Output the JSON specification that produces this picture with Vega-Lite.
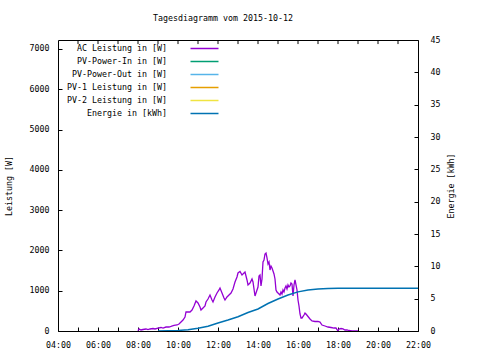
{
  "$schema": "https://vega.github.io/schema/vega-lite/v6.json",
  "width": 360,
  "height": 291,
  "autosize": "none",
  "padding": {"left": 58, "top": 40, "right": 62, "bottom": 29},
  "background": "white",
  "title": {"text": "Tagesdiagramm vom 2015-10-12", "font": "DejaVu Sans Mono", "fontSize": 8.3, "fontWeight": "normal", "color": "black", "anchor": "middle", "dx": -15, "baseline": "alphabetic", "offset": 6},
  "datasets": {
    "power": [
      {"t": "2015-10-12T08:00", "series": "AC Leistung in [W]", "v": 5},
      {"t": "2015-10-12T08:03", "series": "AC Leistung in [W]", "v": 50},
      {"t": "2015-10-12T08:09", "series": "AC Leistung in [W]", "v": 25},
      {"t": "2015-10-12T08:15", "series": "AC Leistung in [W]", "v": 37},
      {"t": "2015-10-12T08:24", "series": "AC Leistung in [W]", "v": 50},
      {"t": "2015-10-12T08:30", "series": "AC Leistung in [W]", "v": 37},
      {"t": "2015-10-12T08:36", "series": "AC Leistung in [W]", "v": 50},
      {"t": "2015-10-12T08:45", "series": "AC Leistung in [W]", "v": 62},
      {"t": "2015-10-12T08:51", "series": "AC Leistung in [W]", "v": 50},
      {"t": "2015-10-12T09:00", "series": "AC Leistung in [W]", "v": 74},
      {"t": "2015-10-12T09:09", "series": "AC Leistung in [W]", "v": 87},
      {"t": "2015-10-12T09:15", "series": "AC Leistung in [W]", "v": 74},
      {"t": "2015-10-12T09:24", "series": "AC Leistung in [W]", "v": 99},
      {"t": "2015-10-12T09:33", "series": "AC Leistung in [W]", "v": 99},
      {"t": "2015-10-12T09:39", "series": "AC Leistung in [W]", "v": 112},
      {"t": "2015-10-12T09:48", "series": "AC Leistung in [W]", "v": 137},
      {"t": "2015-10-12T09:57", "series": "AC Leistung in [W]", "v": 149},
      {"t": "2015-10-12T10:03", "series": "AC Leistung in [W]", "v": 174},
      {"t": "2015-10-12T10:09", "series": "AC Leistung in [W]", "v": 223},
      {"t": "2015-10-12T10:15", "series": "AC Leistung in [W]", "v": 273},
      {"t": "2015-10-12T10:21", "series": "AC Leistung in [W]", "v": 347},
      {"t": "2015-10-12T10:24", "series": "AC Leistung in [W]", "v": 472},
      {"t": "2015-10-12T10:30", "series": "AC Leistung in [W]", "v": 472},
      {"t": "2015-10-12T10:36", "series": "AC Leistung in [W]", "v": 472},
      {"t": "2015-10-12T10:42", "series": "AC Leistung in [W]", "v": 521},
      {"t": "2015-10-12T10:48", "series": "AC Leistung in [W]", "v": 620},
      {"t": "2015-10-12T10:54", "series": "AC Leistung in [W]", "v": 745},
      {"t": "2015-10-12T11:00", "series": "AC Leistung in [W]", "v": 695},
      {"t": "2015-10-12T11:06", "series": "AC Leistung in [W]", "v": 596},
      {"t": "2015-10-12T11:09", "series": "AC Leistung in [W]", "v": 521},
      {"t": "2015-10-12T11:15", "series": "AC Leistung in [W]", "v": 571},
      {"t": "2015-10-12T11:21", "series": "AC Leistung in [W]", "v": 620},
      {"t": "2015-10-12T11:24", "series": "AC Leistung in [W]", "v": 720},
      {"t": "2015-10-12T11:30", "series": "AC Leistung in [W]", "v": 794},
      {"t": "2015-10-12T11:36", "series": "AC Leistung in [W]", "v": 894},
      {"t": "2015-10-12T11:42", "series": "AC Leistung in [W]", "v": 769},
      {"t": "2015-10-12T11:45", "series": "AC Leistung in [W]", "v": 720},
      {"t": "2015-10-12T11:51", "series": "AC Leistung in [W]", "v": 844},
      {"t": "2015-10-12T11:57", "series": "AC Leistung in [W]", "v": 943},
      {"t": "2015-10-12T12:03", "series": "AC Leistung in [W]", "v": 1018},
      {"t": "2015-10-12T12:06", "series": "AC Leistung in [W]", "v": 1067},
      {"t": "2015-10-12T12:12", "series": "AC Leistung in [W]", "v": 943},
      {"t": "2015-10-12T12:18", "series": "AC Leistung in [W]", "v": 819},
      {"t": "2015-10-12T12:21", "series": "AC Leistung in [W]", "v": 769},
      {"t": "2015-10-12T12:27", "series": "AC Leistung in [W]", "v": 844},
      {"t": "2015-10-12T12:33", "series": "AC Leistung in [W]", "v": 894},
      {"t": "2015-10-12T12:39", "series": "AC Leistung in [W]", "v": 943},
      {"t": "2015-10-12T12:45", "series": "AC Leistung in [W]", "v": 1042},
      {"t": "2015-10-12T12:51", "series": "AC Leistung in [W]", "v": 1216},
      {"t": "2015-10-12T12:57", "series": "AC Leistung in [W]", "v": 1340},
      {"t": "2015-10-12T13:00", "series": "AC Leistung in [W]", "v": 1440},
      {"t": "2015-10-12T13:06", "series": "AC Leistung in [W]", "v": 1477},
      {"t": "2015-10-12T13:12", "series": "AC Leistung in [W]", "v": 1390},
      {"t": "2015-10-12T13:18", "series": "AC Leistung in [W]", "v": 1440},
      {"t": "2015-10-12T13:21", "series": "AC Leistung in [W]", "v": 1464},
      {"t": "2015-10-12T13:27", "series": "AC Leistung in [W]", "v": 1266},
      {"t": "2015-10-12T13:30", "series": "AC Leistung in [W]", "v": 1142},
      {"t": "2015-10-12T13:36", "series": "AC Leistung in [W]", "v": 1191},
      {"t": "2015-10-12T13:42", "series": "AC Leistung in [W]", "v": 1291},
      {"t": "2015-10-12T13:45", "series": "AC Leistung in [W]", "v": 1216},
      {"t": "2015-10-12T13:51", "series": "AC Leistung in [W]", "v": 869},
      {"t": "2015-10-12T13:57", "series": "AC Leistung in [W]", "v": 1018},
      {"t": "2015-10-12T14:00", "series": "AC Leistung in [W]", "v": 1092},
      {"t": "2015-10-12T14:03", "series": "AC Leistung in [W]", "v": 1365},
      {"t": "2015-10-12T14:06", "series": "AC Leistung in [W]", "v": 1390},
      {"t": "2015-10-12T14:09", "series": "AC Leistung in [W]", "v": 1117},
      {"t": "2015-10-12T14:12", "series": "AC Leistung in [W]", "v": 1291},
      {"t": "2015-10-12T14:15", "series": "AC Leistung in [W]", "v": 1713},
      {"t": "2015-10-12T14:18", "series": "AC Leistung in [W]", "v": 1762},
      {"t": "2015-10-12T14:21", "series": "AC Leistung in [W]", "v": 1911},
      {"t": "2015-10-12T14:24", "series": "AC Leistung in [W]", "v": 1936},
      {"t": "2015-10-12T14:27", "series": "AC Leistung in [W]", "v": 1812},
      {"t": "2015-10-12T14:30", "series": "AC Leistung in [W]", "v": 1663},
      {"t": "2015-10-12T14:33", "series": "AC Leistung in [W]", "v": 1713},
      {"t": "2015-10-12T14:36", "series": "AC Leistung in [W]", "v": 1514},
      {"t": "2015-10-12T14:39", "series": "AC Leistung in [W]", "v": 1613},
      {"t": "2015-10-12T14:42", "series": "AC Leistung in [W]", "v": 1564},
      {"t": "2015-10-12T14:45", "series": "AC Leistung in [W]", "v": 1490},
      {"t": "2015-10-12T14:48", "series": "AC Leistung in [W]", "v": 1415},
      {"t": "2015-10-12T14:51", "series": "AC Leistung in [W]", "v": 1291},
      {"t": "2015-10-12T14:54", "series": "AC Leistung in [W]", "v": 1018},
      {"t": "2015-10-12T14:57", "series": "AC Leistung in [W]", "v": 968},
      {"t": "2015-10-12T15:00", "series": "AC Leistung in [W]", "v": 943},
      {"t": "2015-10-12T15:06", "series": "AC Leistung in [W]", "v": 894},
      {"t": "2015-10-12T15:09", "series": "AC Leistung in [W]", "v": 968},
      {"t": "2015-10-12T15:12", "series": "AC Leistung in [W]", "v": 918},
      {"t": "2015-10-12T15:15", "series": "AC Leistung in [W]", "v": 1018},
      {"t": "2015-10-12T15:18", "series": "AC Leistung in [W]", "v": 968},
      {"t": "2015-10-12T15:21", "series": "AC Leistung in [W]", "v": 1067},
      {"t": "2015-10-12T15:24", "series": "AC Leistung in [W]", "v": 1117},
      {"t": "2015-10-12T15:27", "series": "AC Leistung in [W]", "v": 1042},
      {"t": "2015-10-12T15:30", "series": "AC Leistung in [W]", "v": 1142},
      {"t": "2015-10-12T15:33", "series": "AC Leistung in [W]", "v": 1092},
      {"t": "2015-10-12T15:36", "series": "AC Leistung in [W]", "v": 1117},
      {"t": "2015-10-12T15:39", "series": "AC Leistung in [W]", "v": 1191},
      {"t": "2015-10-12T15:42", "series": "AC Leistung in [W]", "v": 1167},
      {"t": "2015-10-12T15:45", "series": "AC Leistung in [W]", "v": 869},
      {"t": "2015-10-12T15:48", "series": "AC Leistung in [W]", "v": 1142},
      {"t": "2015-10-12T15:51", "series": "AC Leistung in [W]", "v": 1266},
      {"t": "2015-10-12T15:54", "series": "AC Leistung in [W]", "v": 1142},
      {"t": "2015-10-12T15:57", "series": "AC Leistung in [W]", "v": 1018},
      {"t": "2015-10-12T16:00", "series": "AC Leistung in [W]", "v": 769},
      {"t": "2015-10-12T16:03", "series": "AC Leistung in [W]", "v": 620},
      {"t": "2015-10-12T16:06", "series": "AC Leistung in [W]", "v": 422},
      {"t": "2015-10-12T16:09", "series": "AC Leistung in [W]", "v": 323},
      {"t": "2015-10-12T16:12", "series": "AC Leistung in [W]", "v": 323},
      {"t": "2015-10-12T16:18", "series": "AC Leistung in [W]", "v": 397},
      {"t": "2015-10-12T16:21", "series": "AC Leistung in [W]", "v": 447},
      {"t": "2015-10-12T16:24", "series": "AC Leistung in [W]", "v": 422},
      {"t": "2015-10-12T16:30", "series": "AC Leistung in [W]", "v": 360},
      {"t": "2015-10-12T16:36", "series": "AC Leistung in [W]", "v": 298},
      {"t": "2015-10-12T16:42", "series": "AC Leistung in [W]", "v": 248},
      {"t": "2015-10-12T16:51", "series": "AC Leistung in [W]", "v": 236},
      {"t": "2015-10-12T17:00", "series": "AC Leistung in [W]", "v": 236},
      {"t": "2015-10-12T17:06", "series": "AC Leistung in [W]", "v": 223},
      {"t": "2015-10-12T17:12", "series": "AC Leistung in [W]", "v": 149},
      {"t": "2015-10-12T17:21", "series": "AC Leistung in [W]", "v": 124},
      {"t": "2015-10-12T17:30", "series": "AC Leistung in [W]", "v": 99},
      {"t": "2015-10-12T17:39", "series": "AC Leistung in [W]", "v": 87},
      {"t": "2015-10-12T17:48", "series": "AC Leistung in [W]", "v": 74},
      {"t": "2015-10-12T17:54", "series": "AC Leistung in [W]", "v": 74},
      {"t": "2015-10-12T18:00", "series": "AC Leistung in [W]", "v": 0},
      {"t": "2015-10-12T18:03", "series": "AC Leistung in [W]", "v": 50},
      {"t": "2015-10-12T18:09", "series": "AC Leistung in [W]", "v": 62},
      {"t": "2015-10-12T18:15", "series": "AC Leistung in [W]", "v": 50},
      {"t": "2015-10-12T18:21", "series": "AC Leistung in [W]", "v": 25},
      {"t": "2015-10-12T18:27", "series": "AC Leistung in [W]", "v": 25},
      {"t": "2015-10-12T18:33", "series": "AC Leistung in [W]", "v": 12},
      {"t": "2015-10-12T18:42", "series": "AC Leistung in [W]", "v": 0},
      {"t": "2015-10-12T18:51", "series": "AC Leistung in [W]", "v": 0},
      {"t": "2015-10-12T19:00", "series": "AC Leistung in [W]", "v": 0}
    ],
    "energy": [
      {"t": "2015-10-12T09:00", "series": "Energie in [kWh]", "e": 0},
      {"t": "2015-10-12T09:30", "series": "Energie in [kWh]", "e": 0.03},
      {"t": "2015-10-12T10:00", "series": "Energie in [kWh]", "e": 0.08},
      {"t": "2015-10-12T10:30", "series": "Energie in [kWh]", "e": 0.2},
      {"t": "2015-10-12T11:00", "series": "Energie in [kWh]", "e": 0.42},
      {"t": "2015-10-12T11:30", "series": "Energie in [kWh]", "e": 0.75},
      {"t": "2015-10-12T12:00", "series": "Energie in [kWh]", "e": 1.25},
      {"t": "2015-10-12T12:30", "series": "Energie in [kWh]", "e": 1.7},
      {"t": "2015-10-12T13:00", "series": "Energie in [kWh]", "e": 2.2},
      {"t": "2015-10-12T13:30", "series": "Energie in [kWh]", "e": 2.85},
      {"t": "2015-10-12T14:00", "series": "Energie in [kWh]", "e": 3.4},
      {"t": "2015-10-12T14:30", "series": "Energie in [kWh]", "e": 4.25},
      {"t": "2015-10-12T15:00", "series": "Energie in [kWh]", "e": 4.95},
      {"t": "2015-10-12T15:30", "series": "Energie in [kWh]", "e": 5.57},
      {"t": "2015-10-12T16:00", "series": "Energie in [kWh]", "e": 6.05},
      {"t": "2015-10-12T16:30", "series": "Energie in [kWh]", "e": 6.35},
      {"t": "2015-10-12T17:00", "series": "Energie in [kWh]", "e": 6.48},
      {"t": "2015-10-12T17:30", "series": "Energie in [kWh]", "e": 6.56},
      {"t": "2015-10-12T18:00", "series": "Energie in [kWh]", "e": 6.6},
      {"t": "2015-10-12T19:00", "series": "Energie in [kWh]", "e": 6.62},
      {"t": "2015-10-12T20:00", "series": "Energie in [kWh]", "e": 6.62},
      {"t": "2015-10-12T22:00", "series": "Energie in [kWh]", "e": 6.62}
    ],
    "hours": [
      {"t": "2015-10-12T05:00"}, {"t": "2015-10-12T06:00"}, {"t": "2015-10-12T07:00"}, {"t": "2015-10-12T08:00"},
      {"t": "2015-10-12T09:00"}, {"t": "2015-10-12T10:00"}, {"t": "2015-10-12T11:00"}, {"t": "2015-10-12T12:00"},
      {"t": "2015-10-12T13:00"}, {"t": "2015-10-12T14:00"}, {"t": "2015-10-12T15:00"}, {"t": "2015-10-12T16:00"},
      {"t": "2015-10-12T17:00"}, {"t": "2015-10-12T18:00"}, {"t": "2015-10-12T19:00"}, {"t": "2015-10-12T20:00"},
      {"t": "2015-10-12T21:00"}
    ]
  },
  "encoding": {
    "x": {
      "field": "t", "type": "temporal",
      "scale": {"nice": false, "domain": [{"year": 2015, "month": 10, "date": 12, "hours": 4}, {"year": 2015, "month": 10, "date": 12, "hours": 22}]},
      "axis": {"orient": "bottom", "title": null,
        "values": [
          {"year": 2015, "month": 10, "date": 12, "hours": 4}, {"year": 2015, "month": 10, "date": 12, "hours": 5},
          {"year": 2015, "month": 10, "date": 12, "hours": 6}, {"year": 2015, "month": 10, "date": 12, "hours": 7},
          {"year": 2015, "month": 10, "date": 12, "hours": 8}, {"year": 2015, "month": 10, "date": 12, "hours": 9},
          {"year": 2015, "month": 10, "date": 12, "hours": 10}, {"year": 2015, "month": 10, "date": 12, "hours": 11},
          {"year": 2015, "month": 10, "date": 12, "hours": 12}, {"year": 2015, "month": 10, "date": 12, "hours": 13},
          {"year": 2015, "month": 10, "date": 12, "hours": 14}, {"year": 2015, "month": 10, "date": 12, "hours": 15},
          {"year": 2015, "month": 10, "date": 12, "hours": 16}, {"year": 2015, "month": 10, "date": 12, "hours": 17},
          {"year": 2015, "month": 10, "date": 12, "hours": 18}, {"year": 2015, "month": 10, "date": 12, "hours": 19},
          {"year": 2015, "month": 10, "date": 12, "hours": 20}, {"year": 2015, "month": 10, "date": 12, "hours": 21},
          {"year": 2015, "month": 10, "date": 12, "hours": 22}
        ],
        "labelExpr": "hours(datum.value) % 2 == 0 ? timeFormat(datum.value, '%H:%M') : ''", "labelFlush": false, "labelOverlap": false}
    }
  },
  "layer": [
    {
      "data": {"name": "power"},
      "mark": {"type": "line", "strokeWidth": 1.3, "clip": true},
      "encoding": {
        "y": {
          "field": "v", "type": "quantitative",
          "scale": {"domain": [0, 7222], "nice": false, "zero": true},
          "axis": {"orient": "left", "title": "Leistung [W]", "format": "d", "values": [0, 1000, 2000, 3000, 4000, 5000, 6000, 7000], "titlePadding": 16}
        },
        "color": {
          "field": "series", "type": "nominal",
          "scale": {
            "domain": ["AC Leistung in [W]", "PV-Power-In in [W]", "PV-Power-Out in [W]", "PV-1 Leistung in [W]", "PV-2 Leistung in [W]", "Energie in [kWh]"],
            "range": ["#9400d3", "#009e73", "#56b4e9", "#e69f00", "#f0e442", "#0072b2"]
          },
          "legend": {
            "orient": "none", "legendX": 142, "legendY": 4,
            "title": null, "symbolType": "M-4,0H4", "symbolSize": 49, "symbolStrokeWidth": 1.5,
            "labelAlign": "right", "labelOffset": -42, "rowPadding": 4, "padding": 0,
            "labelFont": "DejaVu Sans Mono", "labelFontSize": 8.3, "labelColor": "black"
          }
        }
      }
    },
    {
      "data": {"name": "energy"},
      "mark": {"type": "line", "strokeWidth": 1.5, "clip": true},
      "encoding": {
        "y": {
          "field": "e", "type": "quantitative",
          "scale": {"domain": [0, 45], "nice": false},
          "axis": {"orient": "right", "title": "Energie [kWh]", "titleAngle": 270, "values": [0, 5, 10, 15, 20, 25, 30, 35, 40, 45], "labelPadding": 16, "titlePadding": 16}
        },
        "color": {"field": "series", "type": "nominal"}
      }
    },
    {
      "data": {"name": "hours"},
      "mark": {"type": "rule", "color": "black", "strokeWidth": 1},
      "encoding": {
        "y": {"datum": 100, "type": "quantitative", "scale": {"domain": [0, 100], "nice": false}, "axis": null},
        "y2": {"datum": 98.6}
      }
    }
  ],
  "resolve": {"scale": {"y": "independent"}},
  "config": {
    "font": "DejaVu Sans Mono",
    "view": {"stroke": "black", "strokeWidth": 1},
    "axis": {
      "domain": false, "grid": false, "ticks": true, "tickColor": "black", "tickSize": -4, "tickWidth": 1,
      "labelPadding": 13, "labelFont": "DejaVu Sans Mono", "labelFontSize": 8.3, "labelColor": "black", "labelFlush": false,
      "titleFont": "DejaVu Sans Mono", "titleFontSize": 8.3, "titleFontWeight": "normal", "titleColor": "black"
    }
  }
}
